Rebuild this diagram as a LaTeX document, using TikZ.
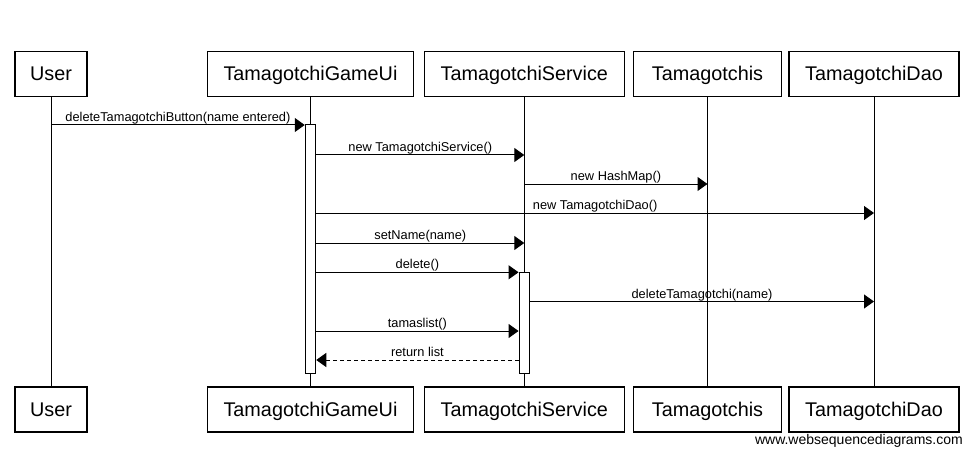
\documentclass[tikz,border=0pt]{standalone}
\usepackage{fontspec}
\setmainfont{Liberation Sans}
\usetikzlibrary{arrows.meta}
\begin{document}
\begin{tikzpicture}[x=1pt,y=-1pt,
  actor/.style={draw, line width=1.2pt, minimum height=45pt, inner sep=0pt, text height=14.2pt, text depth=0pt, font=\fontsize{19.8}{22}\selectfont},
  life/.style={line width=1pt},
  actbar/.style={draw, fill=white, line width=1pt, inner sep=0pt, minimum width=10.5pt},
  msg/.style={line width=1pt, -{Triangle[length=10pt,width=14pt]}},
  retmsg/.style={msg, dash pattern=on 4pt off 3pt},
  lbl/.style={font=\fontsize{12.8}{14}\selectfont, anchor=base, inner sep=0pt, midway, yshift=3.5pt}
]
\useasboundingbox (0,0) rectangle (973,457);
% top actors
\node[actor, minimum width=72pt]    (uT) at (51,73.8)    {User};
\node[actor, minimum width=206pt]   (gT) at (310.5,73.8) {TamagotchiGameUi};
\node[actor, minimum width=200pt]   (sT) at (524.3,73.8) {TamagotchiService};
\node[actor, minimum width=147.5pt] (tT) at (707.5,73.8) {Tamagotchis};
\node[actor, minimum width=170pt]   (dT) at (874,73.8)   {TamagotchiDao};
% bottom actors
\node[actor, minimum width=72pt]    (uB) at (51,409.5)    {User};
\node[actor, minimum width=206pt]   (gB) at (310.5,409.5) {TamagotchiGameUi};
\node[actor, minimum width=200pt]   (sB) at (524.3,409.5) {TamagotchiService};
\node[actor, minimum width=147.5pt] (tB) at (707.5,409.5) {Tamagotchis};
\node[actor, minimum width=170pt]   (dB) at (874,409.5)   {TamagotchiDao};
% lifelines
\draw[life] (uT) -- (uB);
\draw[life] (gT) -- (gB);
\draw[life] (sT) -- (sB);
\draw[life] (tT) -- (tB);
\draw[life] (dT) -- (dB);
% activations
\node[actbar, minimum height=248pt]   (gA) at (310.5,249)    {};
\node[actbar, minimum height=100.7pt] (sA) at (524.3,322.65) {};
% messages
\draw[msg] (uT |- 0,125) -- node[lbl] (m1) {deleteTamagotchiButton(name entered)} (gA.west |- 0,125);
\draw[msg] (gA.east |- 0,155) -- node[lbl] (m2) {new TamagotchiService()} (sT |- 0,155);
\draw[msg] (sT |- 0,184) -- node[lbl] (m3) {new HashMap()} (tT |- 0,184);
\draw[msg] (gA.east |- 0,213) -- node[lbl] (m4) {new TamagotchiDao()} (dT |- 0,213);
\draw[msg] (gA.east |- 0,243) -- node[lbl] (m5) {setName(name)} (sT |- 0,243);
\draw[msg] (gA.east |- 0,272.3) -- node[lbl] (m6) {delete()} (sA.west |- 0,272.3);
\draw[msg] (sA.east |- 0,301.5) -- node[lbl] (m7) {deleteTamagotchi(name)} (dT |- 0,301.5);
\draw[msg] (gA.east |- 0,331) -- node[lbl] (m8) {tamaslist()} (sA.west |- 0,331);
\draw[retmsg] (sA.west |- 0,360) -- node[lbl] (m9) {return list} (gA.east |- 0,360);
% footer
\node[font=\fontsize{14}{16}\selectfont, anchor=base east, inner sep=0pt] (wsd) at (963,444) {www.websequencediagrams.com};
\end{tikzpicture}
\end{document}
